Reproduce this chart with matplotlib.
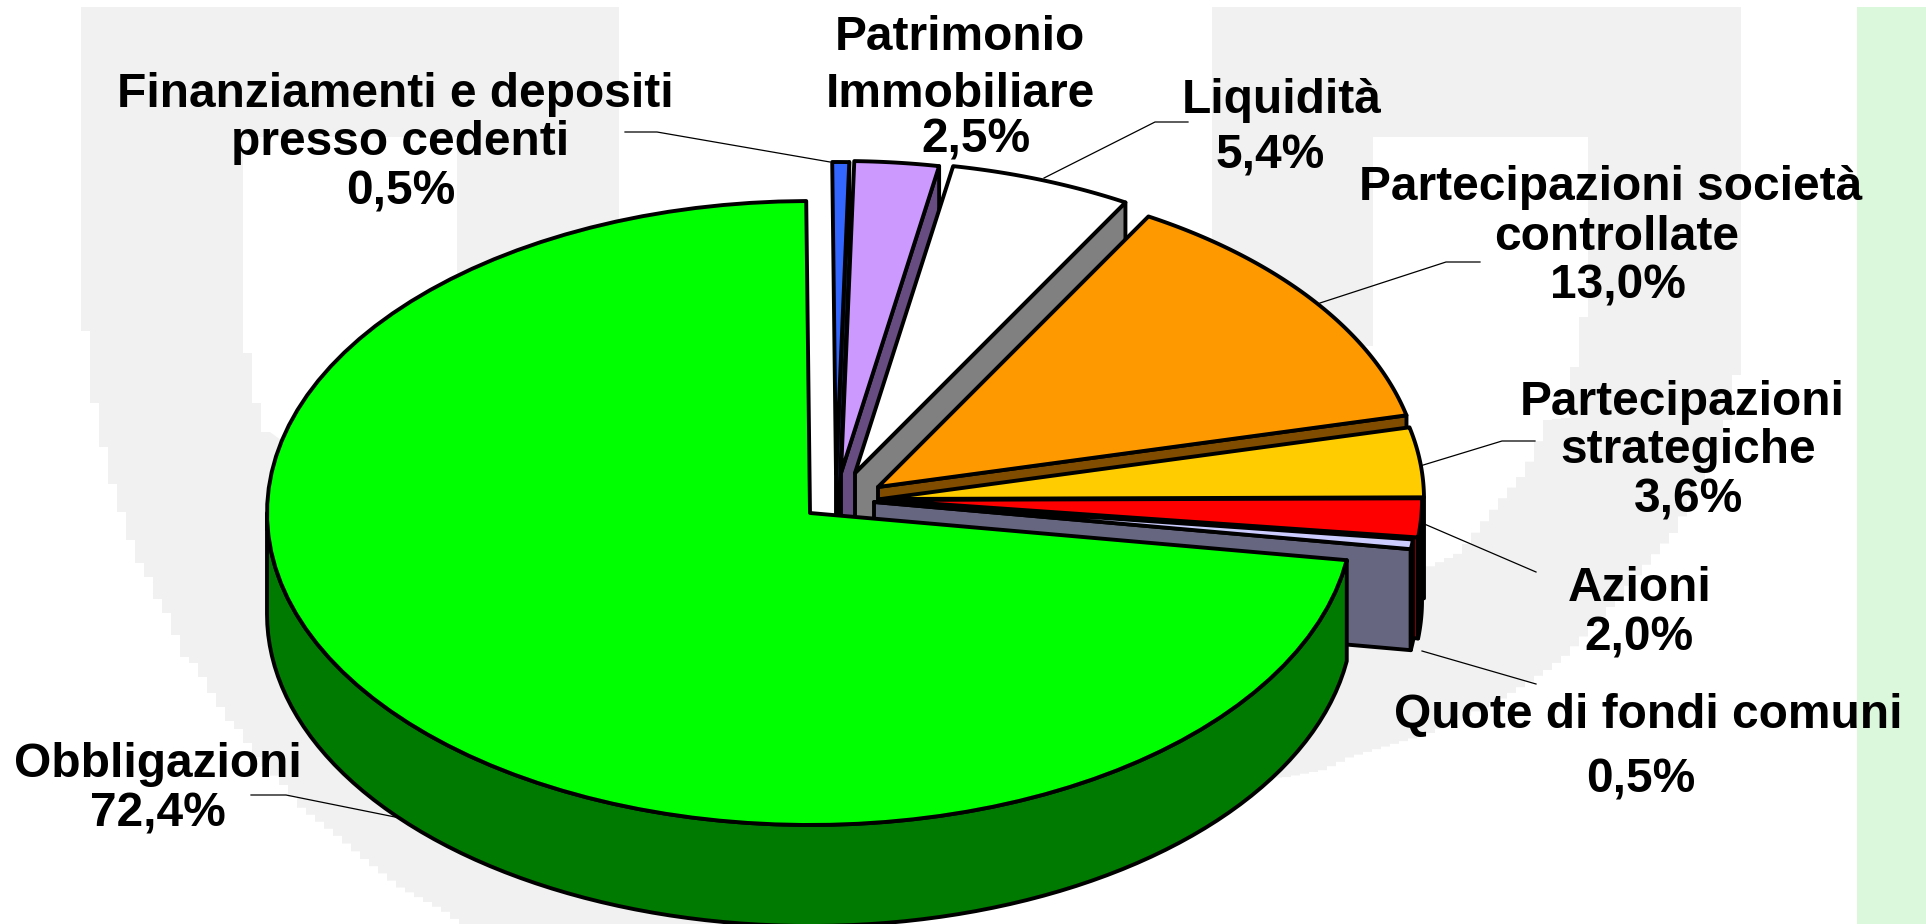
"""Exploded 3D-look pie of the portfolio split, drawn in pixel coords on one axes."""

import matplotlib
matplotlib.use("Agg")
import matplotlib.pyplot as plt
import numpy as np

W, H = 1926, 924

# data
categories = ["Finanziamenti e depositi presso cedenti", "Patrimonio Immobiliare",
              "Liquidità", "Partecipazioni società controllate",
              "Partecipazioni strategiche", "Azioni", "Quote di fondi comuni",
              "Obbligazioni"]
values = [0.5, 2.5, 5.4, 13.0, 3.6, 2.0, 0.5, 72.4]
value_labels = ["0,5%", "2,5%", "5,4%", "13,0%", "3,6%", "2,0%", "0,5%", "72,4%"]

top_colors = ["#3366FF", "#CC99FF", "#FFFFFF", "#FF9900", "#FFCC00", "#FF0000", "#CCCCFF", "#00FF00"]
side_colors = ["#1A3380", "#664C80", "#808080", "#804C00", "#806600", "#800000", "#666680", "#007A00"]

# exploded slice centres, px
centers = [(836, 474), (841, 473), (855, 473), (878, 487),
           (881, 499), (879, 500), (874, 502), (810, 513)]

RX, RY = 543, 312
DEPTH = 101
START = 90.4        # deg, slices run clockwise
LW = 2.8

# (text, centre x, baseline y)
label_lines = [
    ("Finanziamenti e depositi", 395, 107), ("presso cedenti", 400, 155), ("0,5%", 401, 204),
    ("Patrimonio", 960, 50), ("Immobiliare", 960, 107), ("2,5%", 976, 153),
    ("Liquidità", 1282, 113), ("5,4%", 1270, 168),
    ("Partecipazioni società", 1611, 200), ("controllate", 1617, 250), ("13,0%", 1618, 298),
    ("Partecipazioni", 1682, 415), ("strategiche", 1688, 463), ("3,6%", 1689, 513),
    ("Azioni", 1640, 601), ("2,0%", 1639, 651),
    ("Quote di fondi comuni", 1648, 728), ("0,5%", 1641, 793),
    ("Obbligazioni", 158, 777), ("72,4%", 158, 827),
]

leaders = [
    [(625, 132), (657, 132), (830, 162)],
    [(1188, 122), (1155, 122), (1044, 178)],
    [(1480, 262), (1446, 262), (1320, 303)],
    [(1535, 441), (1502, 441), (1420, 466)],
    [(1422, 523), (1536, 572)],
    [(1422, 651), (1536, 684)],
    [(251, 795), (286, 795), (400, 818)],
]

# watermark outline knots, turned into a staircase like the blocky source
WM_GREY = "#F1F1F1"
wm_left_outer = [(81, 331), (90, 403), (99, 447), (108, 484), (117, 512), (126, 540),
                 (135, 563), (144, 577), (153, 599), (162, 613), (171, 635), (180, 657),
                 (189, 663), (198, 677), (207, 693), (216, 707), (225, 721), (234, 729),
                 (243, 743), (252, 757), (279, 785), (296, 807), (332, 835), (360, 859),
                 (395, 887), (440, 911), (464, 930)]
wm_right_outer = [(1741, 375), (1732, 420), (1723, 450), (1678, 533), (1615, 607), (1571, 655),
                  (1552, 670), (1508, 698), (1435, 733), (1355, 757), (1328, 770), (1292, 777),
                  (1273, 778)]
wm_right_inner = [(1588, 317), (1579, 367), (1570, 418), (1552, 420), (1535, 460), (1525, 477),
                  (1508, 497), (1490, 520), (1464, 553), (1427, 570)]
wm_left_inner = [(243, 353), (252, 353), (252, 403), (261, 403), (261, 432), (270, 432)]


def rim(cx, cy, a0, a1, n=90):
    th = np.radians(np.linspace(a0, a1, n))
    return cx + RX * np.cos(th), cy - RY * np.sin(th)


def stair(knots, dx=9):
    kx, ky = np.array(knots, dtype=float).T
    sign = np.sign(kx[-1] - kx[0])
    xs = np.arange(kx[0], kx[-1], sign * dx)
    ys = np.interp(sign * xs, sign * kx, ky)
    out = []
    for x, y in zip(xs, ys):
        out += [(x, y), (x + sign * dx, y)]
    return out


def main():
    plt.rcParams["font.family"] = ["Liberation Sans", "DejaVu Sans"]
    fig = plt.figure(figsize=(W / 100, H / 100), dpi=100)
    ax = fig.add_axes([0, 0, 1, 1])
    ax.set_xlim(0, W)
    ax.set_ylim(H, 0)
    ax.axis("off")

    # background
    ax.fill([1857, W, W, 1857], [7, 7, H, H], color="#DCF8DC", lw=0, zorder=0)
    u_shape = [(81, 7)] + stair(wm_left_outer) + [(850, 930)]
    u_shape += stair(wm_right_outer)[::-1] + [(1741, 7), (1588, 7)]
    u_shape += stair(wm_right_inner) + [(1000, 600), (500, 600)]
    u_shape += wm_left_inner[::-1] + [(243, 7)]
    ax.fill(*zip(*u_shape), color=WM_GREY, lw=0, zorder=0)
    for x0, x1, y0, y1 in [(81, 619, 7, 137), (457, 619, 137, 346),
                           (1212, 1741, 7, 137), (1212, 1373, 137, 346)]:
        ax.fill([x0, x1, x1, x0], [y0, y0, y1, y1], color=WM_GREY, lw=0, zorder=0)

    for pts in leaders:
        xs, ys = zip(*pts)
        ax.plot(xs, ys, color="black", lw=0.9, zorder=1)

    # slices back to front
    sweep = np.array(values) / sum(values) * 360.0
    a = START
    z = 2
    for i, s in enumerate(sweep):
        a0, a1 = a, a - s
        a = a1
        cx, cy = centers[i]
        rx, ry = rim(cx, cy, a0, a1)
        last = i == len(sweep) - 1
        # radial face on the clockwise end, the big slice does not show one
        if not last:
            ax.fill([cx, rx[-1], rx[-1], cx], [cy, ry[-1], ry[-1] + DEPTH, cy + DEPTH],
                    facecolor=side_colors[i], edgecolor="black", lw=LW, joinstyle="round", zorder=z)
        # outer wall for the part of the rim below the horizon
        if last:
            lo0, lo1 = -180.0, a0
        else:
            lo0, lo1 = max(a1, -180.0), min(a0, 0.0)
        if lo1 > lo0:
            wx, wy = rim(cx, cy, lo0, lo1)
            ax.fill(np.r_[wx, wx[::-1]], np.r_[wy, wy[::-1] + DEPTH],
                    facecolor=side_colors[i], edgecolor="black", lw=LW, joinstyle="round", zorder=z)
        ax.fill(np.r_[cx, rx], np.r_[cy, ry], facecolor=top_colors[i], edgecolor="black",
                lw=LW, joinstyle="round", zorder=z + 0.5)
        z += 1

    for txt, x, y in label_lines:
        ax.text(x, y, txt, ha="center", va="baseline", fontsize=34.5, fontweight="bold", zorder=50)

    fig.savefig("out.png", dpi=100)


if __name__ == "__main__":
    main()
